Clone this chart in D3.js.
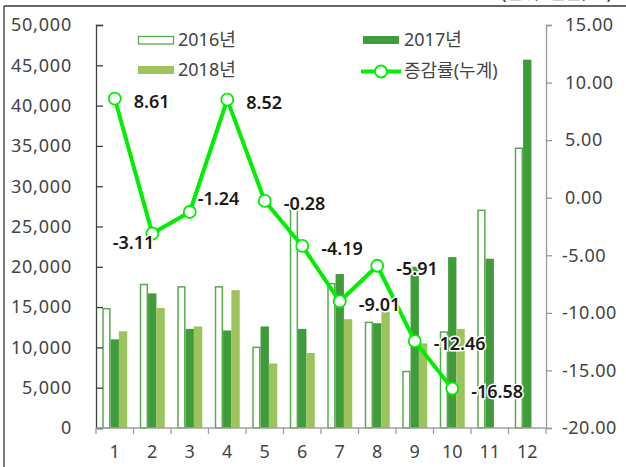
<!DOCTYPE html>
<html><head><meta charset="utf-8">
<script src="https://cdn.jsdelivr.net/npm/d3@7"></script>
<style>
html,body{margin:0;padding:0;background:#fff;}
svg{display:block;font-family:"Noto Sans","Noto Sans CJK KR",sans-serif;}
</style></head>
<body>
<svg id="chart" width="626" height="467"></svg>
<script>
const months = ["1","2","3","4","5","6","7","8","9","10","11","12"];
const v2016 = [14900, 17900, 17600, 17600, 10100, 27400, 18000, 13200, 7100, 12000, 27100, 34800];
const v2017 = [11000, 16700, 12300, 12100, 12600, 12300, 19100, 13000, 20000, 21200, 21000, 45700];
const v2018 = [12000, 14900, 12600, 17100, 8000, 9300, 13500, 14400, 10500, 12300, null, null];
const rate = [8.61, -3.11, -1.24, 8.52, -0.28, -4.19, -9.01, -5.91, -12.46, -16.58];
const leftTicks = [0,5000,10000,15000,20000,25000,30000,35000,40000,45000,50000];
const rightTicks = [-20,-15,-10,-5,0,5,10,15];
const seriesNames = ["2016년","2017년","2018년","증감률(누계)"];
const unitText = "(단위: 천톤, %)";

const loc = d3.formatLocale({decimal: ".", thousands: ",", grouping: [3], currency: ["", ""], minus: "-"});
const f2 = loc.format(".2f"), fc = loc.format(",");

const svg = d3.select("#chart");
const x0 = 96, x1 = 546, yTop = 25, yBot = 428;
const x = d3.scaleBand().domain(months).range([x0, x1]).paddingInner(0).paddingOuter(0);
const yL = d3.scaleLinear().domain([0, 50000]).range([yBot, yTop]);
const yR = d3.scaleLinear().domain([-20, 15]).range([yBot, yTop]);

const c16 = "#58a94e", c17 = "#409c3b", c18 = "#9cc35c", cLine = "#00ee00";

// frame
svg.append("line").attr("x1",4).attr("x2",626).attr("y1",6).attr("y2",6).attr("stroke","#333").attr("stroke-width",1.3);
svg.append("line").attr("x1",4).attr("x2",4).attr("y1",6).attr("y2",467).attr("stroke","#333").attr("stroke-width",1.3);
svg.append("text").attr("x",612).attr("y",-1).attr("text-anchor","end").attr("font-size",18).attr("fill","#333").text(unitText);

// bars
const inner = d3.scaleBand().domain([0,1,2]).range([0, x.bandwidth()]).paddingInner(0).paddingOuter(0.75);
const series = [v2016, v2017, v2018];
series.forEach((vals, si) => {
  const g = svg.append("g");
  months.forEach((m, i) => {
    const v = vals[i];
    if (v == null) return;
    const bx = x(m) + inner(si), bw = inner.bandwidth();
    if (si === 0) {
      g.append("rect").attr("x", bx + 0.75).attr("y", yL(v) + 0.75)
        .attr("width", bw - 1.5).attr("height", yBot - yL(v) - 0.75)
        .attr("fill", "#fff").attr("stroke", c16).attr("stroke-width", 1.5);
    } else {
      g.append("rect").attr("x", bx).attr("y", yL(v))
        .attr("width", bw).attr("height", yBot - yL(v))
        .attr("fill", si === 1 ? c17 : c18);
    }
  });
});

// axes
const axL = svg.append("g").attr("transform", `translate(${x0},0)`)
  .call(d3.axisRight(yL).tickValues(leftTicks).tickSize(7).tickFormat(""));
axL.select(".domain").attr("stroke","#404040").attr("stroke-width",1.3);
axL.selectAll(".tick line").attr("stroke","#404040").attr("stroke-width",1.3);
svg.append("g").selectAll("text").data(leftTicks).join("text")
  .attr("x", 72).attr("y", d => yL(d)).attr("dy","0.35em").attr("text-anchor","end")
  .attr("font-size",18).attr("letter-spacing","0.8").attr("fill","#444").text(d => fc(d));

const axR = svg.append("g").attr("transform", `translate(${x1},0)`)
  .call(d3.axisRight(yR).tickValues(rightTicks).tickSize(6).tickFormat(""));
axR.select(".domain").attr("stroke","#999").attr("stroke-width",1.3);
axR.selectAll(".tick line").attr("stroke","#999").attr("stroke-width",1.3);
svg.append("g").selectAll("text").data(rightTicks).join("text")
  .attr("x", d => d < 0 ? 562 : 565).attr("y", d => yR(d)).attr("dy","0.35em").attr("text-anchor","start")
  .attr("font-size",18).attr("letter-spacing","0.5").attr("fill","#444").text(d => f2(d));

const axB = svg.append("g").attr("transform", `translate(0,${yBot})`);
axB.append("line").attr("x1",x0).attr("x2",x1).attr("stroke","#a0a0a0").attr("stroke-width",1.3);
axB.selectAll("line.t").data(d3.range(months.length+1)).join("line").attr("class","t")
  .attr("x1", i => x0 + i*x.bandwidth()).attr("x2", i => x0 + i*x.bandwidth())
  .attr("y1",0).attr("y2",6).attr("stroke","#a0a0a0").attr("stroke-width",1.3);
axB.selectAll("text").data(months).join("text")
  .attr("x", d => x(d) + x.bandwidth()/2).attr("y", 24).attr("dy","0.35em")
  .attr("text-anchor","middle").attr("font-size",18).attr("fill","#444").text(d => d);

// line
const pts = rate.map((r, i) => [x(months[i]) + x.bandwidth()/2, yR(r)]);
svg.append("path").attr("d", d3.line()(pts)).attr("fill","none").attr("stroke",cLine)
  .attr("stroke-width",4).attr("stroke-linejoin","round");
svg.append("g").selectAll("circle").data(pts).join("circle")
  .attr("cx", d => d[0]).attr("cy", d => d[1]).attr("r", 6)
  .attr("fill","#fff").attr("stroke",cLine).attr("stroke-width",1.8);

// data labels
const labelOff = rate.map(() => ({dx: 19, dy: 3, anchor: "start"}));
labelOff[1] = {dx: 2, dy: 9, anchor: "end"};
labelOff[2] = {dx: 8, dy: -13, anchor: "start"};
svg.append("g").selectAll("text").data(rate).join("text")
  .attr("x", (d,i) => pts[i][0] + labelOff[i].dx).attr("y", (d,i) => pts[i][1] + labelOff[i].dy)
  .attr("dy","0.35em").attr("text-anchor", (d,i) => labelOff[i].anchor)
  .attr("font-size",18).attr("font-weight",600).attr("fill","#1a1a1a")
  .attr("stroke","#fff").attr("stroke-width",3).attr("paint-order","stroke")
  .text(d => f2(d));

// legend
const lg = svg.append("g").attr("font-size",18).attr("fill","#444");
lg.append("rect").attr("x",138.5).attr("y",36.5).attr("width",35).attr("height",7.5)
  .attr("fill","#fff").attr("stroke",c16).attr("stroke-width",1.3);
lg.append("text").attr("x",178).attr("y",40).attr("dy","0.35em").attr("fill","#444").text(seriesNames[0]);
lg.append("rect").attr("x",138).attr("y",66).attr("width",36).attr("height",8).attr("fill",c18);
lg.append("text").attr("x",178).attr("y",70).attr("dy","0.35em").attr("fill","#444").text(seriesNames[2]);
lg.append("rect").attr("x",363).attr("y",36).attr("width",36).attr("height",8).attr("fill",c17);
lg.append("text").attr("x",404).attr("y",40).attr("dy","0.35em").attr("fill","#444").text(seriesNames[1]);
lg.append("line").attr("x1",361).attr("x2",401).attr("y1",71.5).attr("y2",71.5).attr("stroke",cLine).attr("stroke-width",4);
lg.append("circle").attr("cx",381).attr("cy",71.5).attr("r",6).attr("fill","#fff").attr("stroke",cLine).attr("stroke-width",1.8);
lg.append("text").attr("x",404).attr("y",71).attr("dy","0.35em").attr("fill","#444").text(seriesNames[3]);
</script>
</body></html>
